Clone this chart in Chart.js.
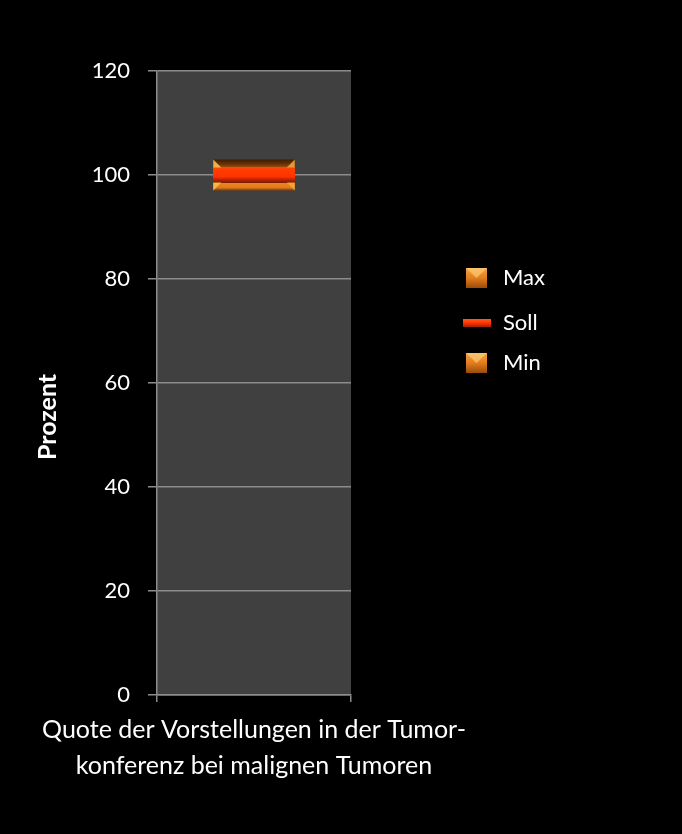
<!DOCTYPE html>
<html>
<head>
<meta charset="utf-8">
<script src="https://cdn.jsdelivr.net/npm/chart.js@4/dist/chart.umd.min.js"></script>
<style>
  html, body { margin: 0; padding: 0; background: #000; }
  #wrap { width: 682px; height: 834px; }
</style>
</head>
<body>
<div id="wrap"><canvas id="c" width="682" height="834"></canvas></div>
<script>
// ---- data ----
const categories = [["Quote der Vorstellungen in der Tumor-", "konferenz bei malignen Tumoren"]];
const maxRange = [[100, 103]];
const minRange = [[97, 100]];
const sollValues = [100];
const yTicks = [0, 20, 40, 60, 80, 100, 120];
const yTitle = "Prozent";

const FONT = "Lato, 'Open Sans', sans-serif";

function vGrad(ctx, y0, y1, stops) {
  const g = ctx.createLinearGradient(0, y0, 0, y1);
  stops.forEach(s => g.addColorStop(s[0], s[1]));
  return g;
}

function barFill(kind) {
  return function (c) {
    const chart = c.chart;
    if (!chart.chartArea || !c.raw || !Array.isArray(c.raw)) return '#e07a20';
    const ys = chart.scales.y;
    const r = c.raw;
    const top = ys.getPixelForValue(Math.max(r[0], r[1]));
    const bot = ys.getPixelForValue(Math.min(r[0], r[1]));
    if (kind === 'max') {
      return vGrad(chart.ctx, top, bot, [[0, '#3a1c02'], [0.3, '#6a3206'], [0.6, '#b85a10'], [1, '#e07018']]);
    }
    return vGrad(chart.ctx, top, bot, [[0, '#d86a14'], [0.4, '#f08a24'], [0.8, '#e47a1c'], [1, '#7a3a08']]);
  };
}

function sollStroke(c) {
  const chart = c.chart;
  if (!chart.chartArea || !c.parsed) return '#ff3300';
  const y = chart.scales.y.getPixelForValue(c.parsed.y);
  return vGrad(chart.ctx, y - 8, y + 8, [[0, '#f04c10'], [0.2, '#ff3c00'], [0.6, '#ff3300'], [0.8, '#b42400'], [1, '#7a1c00']]);
}

const bgPlugin = {
  id: 'bg',
  beforeDraw(chart) {
    const { ctx, chartArea: a } = chart;
    ctx.save();
    ctx.fillStyle = '#000';
    ctx.fillRect(0, 0, chart.width, chart.height);
    ctx.fillStyle = '#404040';
    ctx.fillRect(a.left, a.top, a.right - a.left, a.bottom - a.top);
    ctx.restore();
  },
  afterDatasetsDraw(chart) {
    // bevel corners on the stacked boxes (positions taken from the bar elements)
    const ctx = chart.ctx;
    const mMax = chart.getDatasetMeta(0).data[0];
    const mMin = chart.getDatasetMeta(1).data[0];
    if (!mMax || !mMin) return;
    const l = mMax.x - mMax.width / 2, r = mMax.x + mMax.width / 2;
    const top = Math.min(mMax.y, mMax.base), bot = Math.max(mMin.y, mMin.base);
    const d = 8;
    ctx.save();
    ctx.fillStyle = 'rgba(250,190,70,0.9)';
    ctx.beginPath(); ctx.moveTo(l, top); ctx.lineTo(l + d, top + d); ctx.lineTo(l, top + d); ctx.closePath(); ctx.fill();
    ctx.beginPath(); ctx.moveTo(l, bot); ctx.lineTo(l + d, bot - d); ctx.lineTo(l, bot - d); ctx.closePath(); ctx.fill();
    ctx.fillStyle = 'rgba(240,170,60,0.85)';
    ctx.beginPath(); ctx.moveTo(r, top); ctx.lineTo(r - d, top + d); ctx.lineTo(r, top + d); ctx.closePath(); ctx.fill();
    ctx.beginPath(); ctx.moveTo(r, bot); ctx.lineTo(r - d, bot - d); ctx.lineTo(r, bot - d); ctx.closePath(); ctx.fill();
    ctx.restore();
  },
  afterDraw(chart) {
    const ctx = chart.ctx;
    ctx.save();
    // y axis title
    ctx.translate(48, 417);
    ctx.rotate(-Math.PI / 2);
    ctx.fillStyle = '#fff';
    ctx.font = "bold 25px " + FONT;
    ctx.textAlign = 'center';
    ctx.textBaseline = 'middle';
    ctx.fillText(yTitle, 0, 0);
    ctx.restore();

    // legend
    const boxStops = [[0, '#f4a444'], [0.5, '#e47c1c'], [1, '#9a4a0c']];
    const items = [
      { label: chart.data.datasets[0].label, type: 'box', y: 278 },
      { label: chart.data.datasets[2].label, type: 'dash', y: 323 },
      { label: chart.data.datasets[1].label, type: 'box', y: 363 }
    ];
    ctx.save();
    ctx.font = "22px " + FONT;
    ctx.textBaseline = 'middle';
    items.forEach(it => {
      if (it.type === 'box') {
        ctx.fillStyle = vGrad(ctx, it.y - 10, it.y + 10, boxStops);
        ctx.fillRect(466, it.y - 10, 21, 20);
        ctx.fillStyle = 'rgba(255,215,130,0.6)';
        ctx.beginPath();
        ctx.moveTo(466, it.y - 10); ctx.lineTo(487, it.y - 10); ctx.lineTo(476.5, it.y); ctx.closePath();
        ctx.fill();
      } else {
        ctx.fillStyle = vGrad(ctx, it.y - 4, it.y + 4, [[0, '#ff5a20'], [0.5, '#ff3300'], [1, '#a02000']]);
        ctx.fillRect(463, it.y - 4, 28, 8);
      }
      ctx.fillStyle = '#fff';
      ctx.fillText(it.label, 503, it.y);
    });
    ctx.restore();
  }
};

new Chart(document.getElementById('c'), {
  type: 'bar',
  data: {
    labels: categories,
    datasets: [
      { label: 'Max', data: maxRange, backgroundColor: barFill('max'), grouped: false, barPercentage: 0.42, categoryPercentage: 1, order: 2,
        borderColor: '#5a2a04', borderWidth: 0 },
      { label: 'Min', data: minRange, backgroundColor: barFill('min'), grouped: false, barPercentage: 0.42, categoryPercentage: 1, order: 2,
        borderColor: '#5a2a04', borderWidth: 0 },
      { label: 'Soll', type: 'line', data: sollValues, showLine: false, order: 0,
        pointStyle: 'line', pointRadius: 41, pointHoverRadius: 41, pointBorderWidth: 16, pointHoverBorderWidth: 16,
        pointBorderColor: sollStroke, pointBackgroundColor: sollStroke, borderColor: '#ff3300' }
    ]
  },
  options: {
    responsive: false,
    animation: false,
    events: [],
    layout: { padding: { top: 71, left: 0, right: 331, bottom: 0 } },
    plugins: { legend: { display: false }, tooltip: { enabled: false } },
    scales: {
      x: {
        offset: true,
        grid: { display: true, offset: true, drawOnChartArea: false, color: '#8c8c8c', lineWidth: 1.5, tickLength: 7 },
        border: { display: true, color: '#8c8c8c', width: 1.5 },
        ticks: { color: '#fff', font: { family: FONT, size: 25, lineHeight: 1.44 }, padding: 10, maxRotation: 0, autoSkip: false },
        afterFit(s) { s.height = 139; s.paddingLeft = 0; s.paddingRight = 0; }
      },
      y: {
        min: 0, max: 120,
        afterBuildTicks(s) { s.ticks = yTicks.map(v => ({ value: v })); },
        grid: { color: '#8c8c8c', lineWidth: 1.5, tickLength: 9 },
        border: { display: true, color: '#8c8c8c', width: 1.5 },
        ticks: { color: '#fff', font: { family: FONT, size: 22 }, padding: 18 },
        afterFit(s) { s.width = 157; s.paddingTop = 0; s.paddingBottom = 0; }
      }
    }
  },
  plugins: [bgPlugin]
});
</script>
</body>
</html>
